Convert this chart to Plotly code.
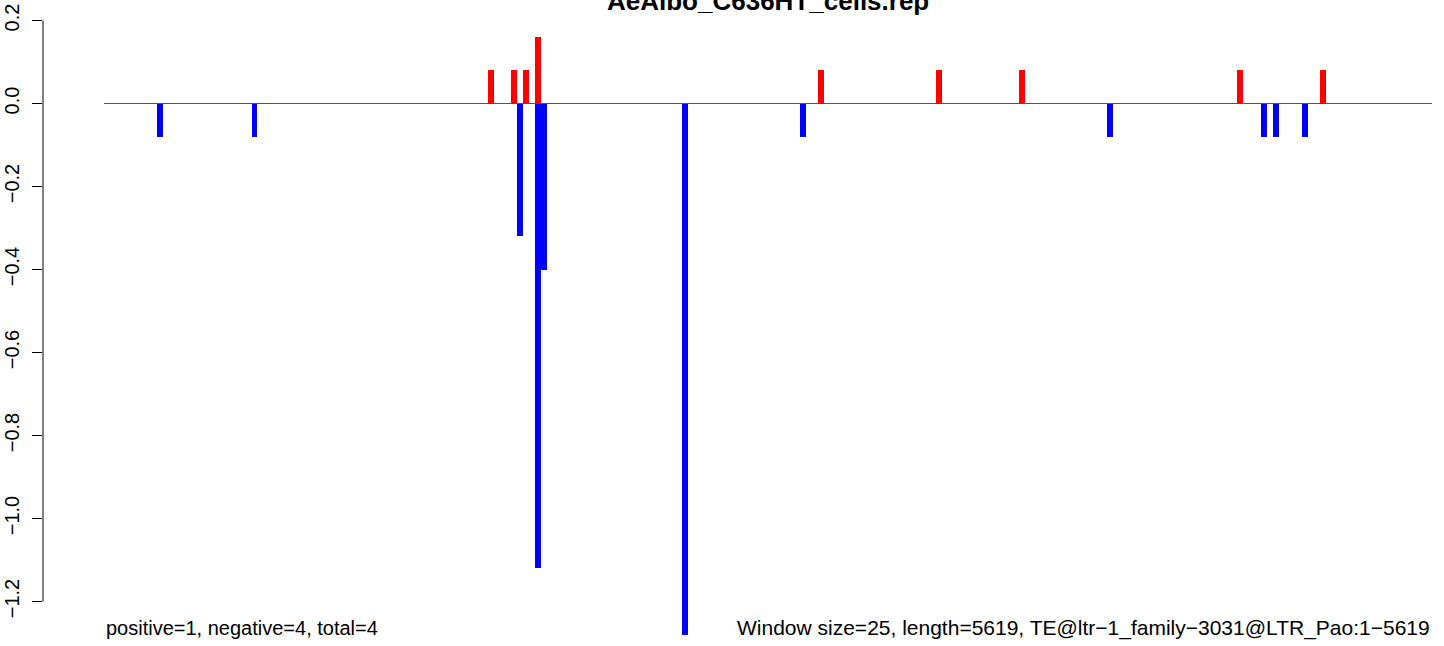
import plotly.graph_objects as go

# ---- data (window index, value) ----
title_text = "AeAlbo_C636HT_cells.rep"
n_windows = 225
pos_idx = [65, 69, 71, 73, 121, 141, 155, 192, 206]
pos_val = [0.08, 0.08, 0.08, 0.16, 0.08, 0.08, 0.08, 0.08, 0.08]
neg_idx = [9, 25, 70, 73, 74, 98, 118, 170, 196, 198, 203]
neg_val = [-0.08, -0.08, -0.32, -1.12, -0.40, -1.28, -0.08, -0.08, -0.08, -0.08, -0.08]
ytick_vals = [0.2, 0.0, -0.2, -0.4, -0.6, -0.8, -1.0, -1.2]
ytick_text = ["0.2", "0.0", "\u22120.2", "\u22120.4", "\u22120.6", "\u22120.8", "\u22121.0", "\u22121.2"]
left_note = "positive=1, negative=4, total=4"
right_note = "Window size=25, length=5619, TE@ltr\u22121_family\u22123031@LTR_Pao:1\u22125619"

W, H = 1444, 646
ML, MR, MT, MB = 43, 12, 16, 3
plot_h = H - MT - MB
px_per_bar = (1432 - 104) / n_windows
x_left = -0.5 - (104 - ML) / px_per_bar
x_right = n_windows - 0.5
zero_px = 103.5
px_per_unit = 415.0
y_top = (zero_px - MT) / px_per_unit
y_bot = -(H - MB - zero_px) / px_per_unit


def py(pix):
    return (H - MB - pix) / plot_h


font = "Liberation Sans, Arial, sans-serif"

fig = go.Figure()
fig.add_trace(go.Bar(x=pos_idx, y=pos_val, width=1, marker=dict(color="#FF0000", line=dict(width=0)),
                     showlegend=False, hoverinfo="x+y"))
fig.add_trace(go.Bar(x=neg_idx, y=neg_val, width=1, marker=dict(color="#0000FF", line=dict(width=0)),
                     showlegend=False, hoverinfo="x+y"))

fig.update_layout(
    template="none",
    width=W, height=H,
    margin=dict(l=ML, r=MR, t=MT, b=MB, pad=0, autoexpand=False),
    paper_bgcolor="white", plot_bgcolor="white",
    barmode="overlay", bargap=0,
    font=dict(family=font, size=20, color="black"),
    xaxis=dict(range=[x_left, x_right], visible=False, showgrid=False, zeroline=False,
               automargin=False),
    yaxis=dict(range=[y_bot, y_top], showgrid=False, zeroline=False, showline=False,
               automargin=False,
               tickmode="array", tickvals=ytick_vals, ticktext=ytick_text,
               ticks="outside", ticklen=10, tickwidth=1, tickcolor="black",
               ticklabelstandoff=5,
               tickangle=-90, tickfont=dict(size=20, family=font, color="black")),
    shapes=[
        dict(type="line", xref="paper", yref="y", x0=0, x1=0, y0=-1.2, y1=0.2,
             line=dict(color="black", width=1)),
        dict(type="line", xref="x", yref="y", x0=-0.5, x1=n_windows - 0.5, y0=0, y1=0,
             line=dict(color="#555555", width=1), layer="below"),
    ],
    annotations=[
        dict(text="<b>" + title_text + "</b>", xref="x", yref="paper", x=(n_windows - 1) / 2,
             y=py(1), xanchor="center", yanchor="middle", showarrow=False,
             font=dict(size=26, family=font, color="black")),
        dict(text=left_note, xref="x", yref="paper", x=-0.5, y=py(628), xanchor="left",
             yanchor="middle", showarrow=False, font=dict(size=20, family=font, color="black")),
        dict(text=right_note, xref="x", yref="paper", x=n_windows - 0.5, y=py(628), xanchor="right",
             yanchor="middle", showarrow=False, font=dict(size=21, family=font, color="black")),
    ],
)

fig.write_html("out.html", config={"displayModeBar": False},
               post_script="document.body.style.margin='0';")
